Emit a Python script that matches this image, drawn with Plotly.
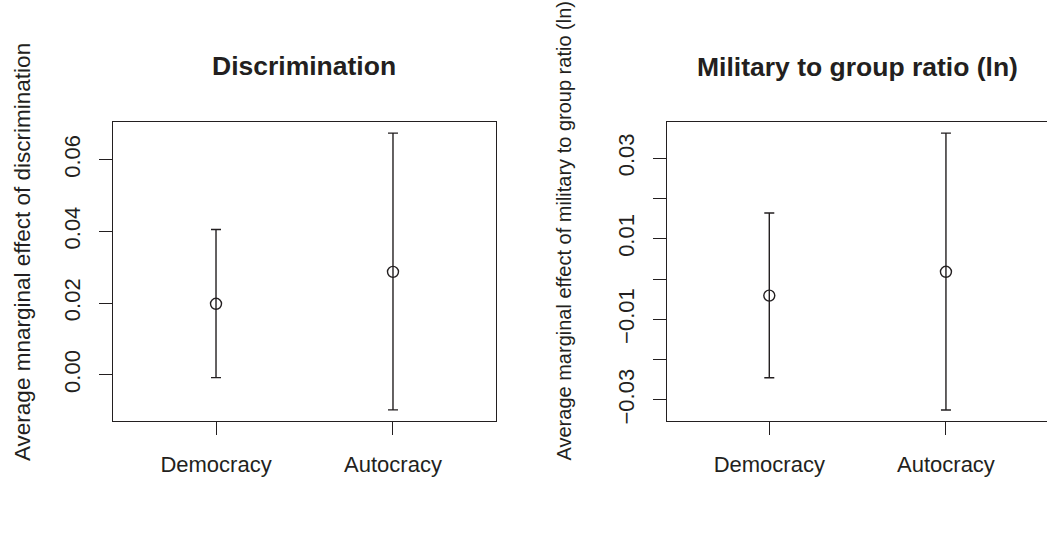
import plotly.graph_objects as go

# ---- data ----
categories = ["Democracy", "Autocracy"]
cat_pos = [1, 2]

disc_est = [0.0198, 0.0287]
disc_upper = [0.0405, 0.0674]
disc_lower = [-0.0008, -0.0098]

mil_est = [-0.0041, 0.0018]
mil_upper = [0.0164, 0.0362]
mil_lower = [-0.0245, -0.0325]

left_ticks = [0.00, 0.02, 0.04, 0.06]
left_ticktext = ["0.00", "0.02", "0.04", "0.06"]
right_ticks = [-0.03, -0.02, -0.01, 0.00, 0.01, 0.02, 0.03]
right_ticktext = ["\u22120.03", "", "\u22120.01", "", "0.01", "", "0.03"]

titles = ["Discrimination", "Military to group ratio (ln)"]
ylabels = ["Average mnarginal effect of discrimination",
           "Average marginal effect of military to group ratio (ln)"]

# ---- styling ----
W, H = 1047, 536
FONT = "Liberation Sans, Arial, Helvetica, sans-serif"
INK = "#231f20"
LW = 1.4

fig = go.Figure()


def add_panel(est, up, lo, xa, ya):
    fig.add_trace(go.Scatter(
        x=cat_pos, y=est, mode="markers",
        xaxis=xa, yaxis=ya,
        marker=dict(symbol="circle-open", size=11, color=INK,
                    line=dict(width=LW, color=INK)),
        error_y=dict(type="data", symmetric=False,
                     array=[u - e for u, e in zip(up, est)],
                     arrayminus=[e - l for e, l in zip(est, lo)],
                     color=INK, thickness=LW, width=5),
        showlegend=False, hoverinfo="skip"))


add_panel(disc_est, disc_upper, disc_lower, "x", "y")
add_panel(mil_est, mil_upper, mil_lower, "x2", "y2")

axis_common = dict(showgrid=False, zeroline=False, showline=True,
                   automargin=False,
                   linecolor=INK, linewidth=LW, ticks="outside",
                   ticklen=13, tickwidth=LW, tickcolor=INK,
                   tickfont=dict(family=FONT, size=22, color=INK))

fig.update_layout(
    width=W, height=H,
    margin=dict(l=0, r=0, t=0, b=0, autoexpand=False),
    paper_bgcolor="white", plot_bgcolor="white",
    xaxis=dict(axis_common, domain=[113 / W, 496 / W], range=[0.418, 2.582],
               tickvals=cat_pos, ticktext=categories, mirror=True,
               ticklabelstandoff=10, anchor="y"),
    yaxis=dict(axis_common, domain=[1 - 421 / H, 1 - 122 / H],
               range=[-0.01289, 0.07049], tickvals=left_ticks,
               ticktext=left_ticktext, tickangle=-90, mirror=True,
               ticklabelstandoff=10, anchor="x"),
    xaxis2=dict(axis_common, domain=[667 / W, 1.0], range=[0.421, 2.572],
                tickvals=cat_pos, ticktext=categories, mirror=True,
                ticklabelstandoff=10, anchor="y2"),
    yaxis2=dict(axis_common, domain=[1 - 421 / H, 1 - 122 / H],
                range=[-0.03522, 0.03897], tickvals=right_ticks,
                ticktext=right_ticktext, tickangle=-90, mirror=False,
                ticklabelstandoff=10, anchor="x2"),
)

# titles
fig.add_annotation(text="<b>" + titles[0] + "</b>", x=304 / W, y=1 - 66 / H,
                   xref="paper", yref="paper", showarrow=False,
                   xanchor="center", yanchor="middle",
                   font=dict(family=FONT, size=26.5, color=INK))
fig.add_annotation(text="<b>" + titles[1] + "</b>", x=857 / W, y=1 - 67 / H,
                   xref="paper", yref="paper", showarrow=False,
                   xanchor="center", yanchor="middle",
                   font=dict(family=FONT, size=26.5, color=INK))
# y labels
fig.add_annotation(text=ylabels[0], x=22 / W, y=1 - 463 / H,
                   xref="paper", yref="paper", showarrow=False, textangle=-90,
                   xanchor="center", yanchor="bottom",
                   font=dict(family=FONT, size=22.5, color=INK))
fig.add_annotation(text=ylabels[1], x=563 / W, y=1 - 463 / H,
                   xref="paper", yref="paper", showarrow=False, textangle=-90,
                   xanchor="center", yanchor="bottom",
                   font=dict(family=FONT, size=20, color=INK))

fig.write_html("out.html",
               config={"displayModeBar": False},
               post_script="document.body.style.margin='0';document.body.style.overflow='hidden';")
